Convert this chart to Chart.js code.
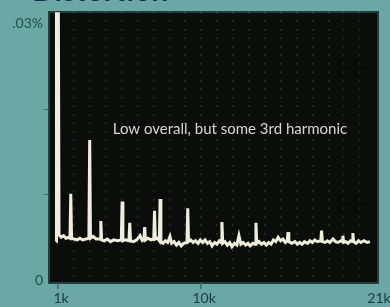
<!DOCTYPE html>
<html lang="en">
<head>
    <meta charset="UTF-8">
    <title>Distortion</title>
    <style>
        html, body {
            margin: 0;
            padding: 0;
            background: #6ba7a5;
            overflow: hidden;
        }
        #chart {
            display: block;
        }
    </style>
    <script src="https://cdn.jsdelivr.net/npm/chart.js"></script>
</head>
<body>
    <canvas id="chart" width="390" height="307"></canvas>

    <script>
        // frequency in kHz, distortion in %
        const freqK = [
            0.89, 0.90, 1.02, 1.06, 1.20, 1.35, 1.50, 1.65, 1.75, 1.80, 1.85, 2.00, 2.20, 2.38, 2.55,
            2.75, 2.94, 2.99, 3.04, 3.20, 3.40, 3.64, 3.69, 3.74, 3.90, 4.10, 4.30, 4.50, 4.75,
            4.98, 5.03, 5.08, 5.25, 5.46, 5.51, 5.56, 5.75, 5.95, 6.16, 6.30, 6.40, 6.45, 6.50,
            6.65, 6.85, 7.02, 7.07, 7.12, 7.25, 7.37, 7.42, 7.47,
            7.60, 7.75, 7.90, 8.04, 8.15, 8.30, 8.45, 8.60, 8.75, 8.90, 9.11, 9.16, 9.21, 9.35,
            9.50, 9.65, 9.81, 9.95, 10.10, 10.25, 10.40, 10.55, 10.69, 10.85, 11.00, 11.15, 11.26,
            11.31, 11.36, 11.50, 11.65, 11.80, 11.94, 12.10, 12.25, 12.38, 12.50, 12.65, 12.80,
            12.95, 13.08, 13.25, 13.40, 13.45, 13.50, 13.65, 13.80, 13.95, 14.10, 14.25, 14.40,
            14.55, 14.70, 14.85, 15.00, 15.15, 15.30, 15.42, 15.47, 15.52, 15.70, 15.91, 16.05,
            16.20, 16.35, 16.50, 16.70, 16.85, 17.00, 17.15, 17.30, 17.53, 17.58, 17.63, 17.80,
            17.95, 18.10, 18.30, 18.45, 18.61, 18.80, 18.88, 18.92, 18.97, 19.10, 19.24, 19.40,
            19.50, 19.55, 19.60, 19.75, 19.90, 20.05, 20.25, 20.45, 20.62
        ];
        const distortionPct = [
            0.0045, 0.0312, 0.0312, 0.0053, 0.0050, 0.0052, 0.0049, 0.0050, 0.0049, 0.0101, 0.0049, 0.0048, 0.0047, 0.0049, 0.0047,
            0.0048, 0.0049, 0.0164, 0.0049, 0.0051, 0.0048, 0.0048, 0.0069, 0.0047, 0.0046, 0.0048, 0.0045, 0.0047, 0.0046,
            0.0047, 0.0092, 0.0046, 0.0047, 0.0046, 0.0067, 0.0046, 0.0045, 0.0047, 0.0052, 0.0046, 0.0047, 0.0062, 0.0047,
            0.0049, 0.0047, 0.0048, 0.0081, 0.0048, 0.0049, 0.0046, 0.0095, 0.0045,
            0.0043, 0.0046, 0.0044, 0.0051, 0.0043, 0.0045, 0.0041, 0.0044, 0.0040, 0.0043, 0.0044, 0.0084, 0.0045, 0.0047,
            0.0044, 0.0046, 0.0043, 0.0047, 0.0044, 0.0047, 0.0043, 0.0045, 0.0040, 0.0044, 0.0042, 0.0046, 0.0044,
            0.0068, 0.0043, 0.0045, 0.0041, 0.0044, 0.0039, 0.0043, 0.0041, 0.0052, 0.0042, 0.0044, 0.0041,
            0.0043, 0.0040, 0.0043, 0.0042, 0.0067, 0.0043, 0.0045, 0.0042, 0.0044, 0.0041, 0.0044, 0.0042,
            0.0047, 0.0045, 0.0050, 0.0046, 0.0048, 0.0044, 0.0046, 0.0056, 0.0045, 0.0043, 0.0045, 0.0042,
            0.0044, 0.0042, 0.0045, 0.0043, 0.0046, 0.0044, 0.0047, 0.0045, 0.0046, 0.0058, 0.0045, 0.0044,
            0.0046, 0.0044, 0.0048, 0.0045, 0.0044, 0.0046, 0.0045, 0.0052, 0.0044, 0.0045, 0.0043, 0.0046,
            0.0045, 0.0055, 0.0045, 0.0043, 0.0046, 0.0044, 0.0046, 0.0044, 0.0045
        ];
        const xTickValues = [1, 10, 21];
        const xTickLabels = ['1k', '10k', '21k'];
        const yTickValues = [0, 0.01, 0.02, 0.03];
        const yTickLabels = ['0', '', '', '.03%'];
        const titleText = 'Distortion';
        const noteText = 'Low overall, but some 3rd harmonic';

        const points = freqK.map((f, i) => ({ x: f, y: distortionPct[i] }));

        // black screen behind the plot, title and the note
        const screenPlugin = {
            id: 'screen',
            beforeDraw(chart) {
                const { ctx, chartArea: a } = chart;
                ctx.save();
                ctx.fillStyle = '#0b0d0b';
                ctx.fillRect(a.left, a.top, a.right - a.left, a.bottom - a.top);
                ctx.strokeStyle = '#20413b';
                ctx.lineWidth = 2;
                ctx.strokeRect(a.left, a.top, a.right - a.left, a.bottom - a.top);
                ctx.restore();
            },
            afterDraw(chart) {
                const ctx = chart.ctx;
                ctx.save();
                ctx.fillStyle = '#1b2d4f';
                ctx.font = 'bold 30px Lato';
                ctx.textBaseline = 'alphabetic';
                ctx.textAlign = 'left';
                ctx.fillText(titleText, 32, 1);

                ctx.fillStyle = '#d8d8cf';
                ctx.font = '15px Lato';
                ctx.textAlign = 'center';
                ctx.textBaseline = 'middle';
                ctx.fillText(noteText, 230, 129);
                ctx.restore();
            }
        };

        new Chart(document.getElementById('chart'), {
            type: 'line',
            data: {
                datasets: [{
                    data: points,
                    borderColor: '#efeedc',
                    borderWidth: 3,
                    pointRadius: 0,
                    tension: 0,
                    fill: false
                }]
            },
            options: {
                responsive: false,
                animation: false,
                layout: { padding: { top: 12, right: 12, left: 0, bottom: 0 } },
                plugins: {
                    legend: { display: false },
                    tooltip: { enabled: false }
                },
                scales: {
                    x: {
                        type: 'linear',
                        min: 0.43,
                        max: 21.13,
                        afterFit: s => { s.height = 24; },
                        afterBuildTicks: s => {
                            const t = [];
                            for (let k = 1; k <= 21; k++) t.push({ value: k });
                            s.ticks = t;
                        },
                        ticks: {
                            autoSkip: false,
                            maxRotation: 0,
                            padding: 1,
                            labelOffset: 3,
                            color: '#1b3a46',
                            font: { family: 'Lato', size: 14 },
                            callback: v => {
                                const i = xTickValues.indexOf(v);
                                return i >= 0 ? xTickLabels[i] : '';
                            }
                        },
                        grid: {
                            color: c => (c.tick && c.tick.value > 1 && c.tick.value < 21) ? 'rgba(175,175,160,0.25)' : 'transparent',
                            lineWidth: 1.5,
                            tickLength: 6,
                            tickColor: c => (c.tick && (c.tick.value === 1 || c.tick.value === 10)) ? '#3d6d66' : 'transparent'
                        },
                        border: { display: false, dash: [1.5, 7] }
                    },
                    y: {
                        min: -0.00035,
                        max: 0.0314,
                        afterFit: s => { s.width = 49; },
                        afterBuildTicks: s => {
                            s.ticks = yTickValues.map(v => ({ value: v }));
                        },
                        ticks: {
                            padding: 1,
                            color: '#1e4f4a',
                            font: { family: 'Lato', size: 14 },
                            callback: (v, i) => yTickLabels[i]
                        },
                        grid: {
                            drawOnChartArea: false,
                            tickLength: 5,
                            tickColor: c => (c.index === 1 || c.index === 2) ? '#3d6d66' : 'transparent'
                        },
                        border: { display: false }
                    }
                }
            },
            plugins: [screenPlugin]
        });
    </script>
</body>
</html>
